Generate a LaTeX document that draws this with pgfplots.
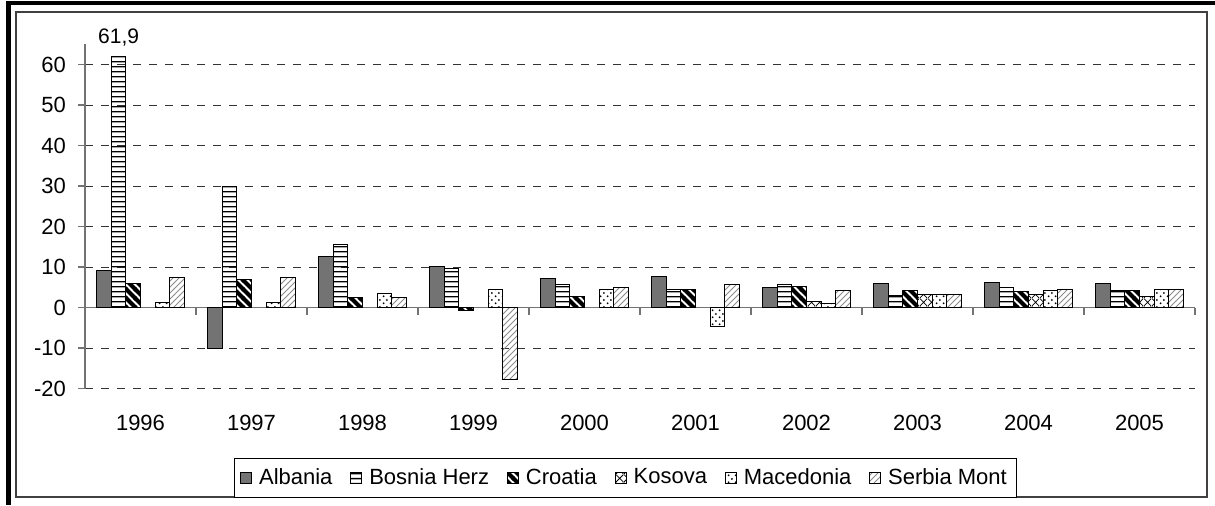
\documentclass[border=0pt]{standalone}
\usepackage{fontspec}
\setmainfont{Liberation Sans}
\usepackage{pgfplots}
\usepackage{pgfplotstable}
\pgfplotsset{compat=1.18}
\usetikzlibrary{patterns}

\pgfdeclarepatternformonly{hstripe}{\pgfqpoint{0pt}{0pt}}{\pgfqpoint{20pt}{2.4pt}}{\pgfqpoint{20pt}{2.4pt}}{%
  \pgfsetlinewidth{0.7pt}\pgfpathmoveto{\pgfqpoint{-1pt}{1.2pt}}\pgfpathlineto{\pgfqpoint{21pt}{1.2pt}}\pgfusepath{stroke}}
\pgfdeclarepatternformonly{wideNW}{\pgfqpoint{-1pt}{-1pt}}{\pgfqpoint{5.5pt}{5.5pt}}{\pgfqpoint{4.5pt}{4.5pt}}{%
  \pgfsetlinewidth{2pt}\pgfpathmoveto{\pgfqpoint{-1pt}{5.5pt}}\pgfpathlineto{\pgfqpoint{5.5pt}{-1pt}}\pgfusepath{stroke}}
\pgfdeclarepatternformonly{dcross}{\pgfqpoint{0pt}{0pt}}{\pgfqpoint{4pt}{4pt}}{\pgfqpoint{4pt}{4pt}}{%
  \pgfsetlinewidth{0.4pt}\pgfpathmoveto{\pgfqpoint{0pt}{0pt}}\pgfpathlineto{\pgfqpoint{4pt}{4pt}}%
  \pgfpathmoveto{\pgfqpoint{0pt}{4pt}}\pgfpathlineto{\pgfqpoint{4pt}{0pt}}\pgfusepath{stroke}}
\pgfdeclarepatternformonly{sdots}{\pgfqpoint{0pt}{0pt}}{\pgfqpoint{3.6pt}{3.6pt}}{\pgfqpoint{3.6pt}{3.6pt}}{%
  \pgfpathcircle{\pgfqpoint{0.9pt}{0.9pt}}{0.55pt}\pgfpathcircle{\pgfqpoint{2.7pt}{2.7pt}}{0.55pt}\pgfusepath{fill}}

\pgfplotstableread{
x alb bos cro kos mac ser lbl
0 9.1 61.9 6.0 nan 1.4 7.4 61,9
1 -10.1 30.0 7.0 nan 1.4 7.4 {}
2 12.6 15.7 2.5 nan 3.5 2.5 {}
3 10.2 9.7 -0.8 nan 4.5 -17.8 {}
4 7.3 5.6 2.8 nan 4.5 4.9 {}
5 7.6 4.5 4.5 nan -4.6 5.6 {}
6 4.9 5.6 5.2 1.5 1.1 4.2 {}
7 6.0 3.0 4.3 3.2 3.2 3.2 {}
8 6.3 4.9 3.9 3.2 4.2 4.5 {}
9 6.0 4.2 4.2 2.8 4.5 4.5 {}
}\data

\begin{document}
\begin{tikzpicture}
\useasboundingbox (0,0) rectangle (607.5pt,-252.5pt);
\fill[black] (3pt,-0.5pt) rectangle (607.5pt,-2.5pt);
\fill[black] (3pt,-0.5pt) rectangle (5.25pt,-252.5pt);
\draw[black!75, line width=0.8pt] (8pt,-6pt) rectangle (603.5pt,-248.5pt);

\begin{axis}[
  at={(42.5pt,-194.35pt)}, anchor=south west,
  scale only axis, width=555pt, height=172.2pt,
  xmin=-0.5, xmax=9.5, ymin=-20, ymax=65,
  ybar=0pt, bar width=0.1315,
  axis y line=left, axis x line=middle,
  axis line style={draw=black!55, line width=0.7pt, -},
  tick style={draw=black!55, line width=0.7pt},
  tick align=outside, major tick length=3.5pt,
  ytick={-20,-10,...,60},
  xtick={-0.5,0.5,...,9.5}, xticklabels={},
  ymajorgrids,
  major grid style={black!80, line width=0.5pt, dash pattern=on 4pt off 4pt},
  ticklabel style={font=\fontsize{11}{13}\selectfont},
  yticklabel style={xshift=-2.5pt},
  /pgf/number format/assume math mode=true,
  legend style={at={(0.487,-0.258)}, anchor=center, legend columns=6,
    draw=black, line width=0.5pt, font=\fontsize{11}{13}\selectfont,
    inner sep=3pt,
    /tikz/every odd column/.append style={column sep=1.5pt},
    /tikz/every even column/.append style={column sep=7pt}},
  legend image code/.code={\draw[#1, line width=0.4pt] (0pt,-2.75pt) rectangle (5.5pt,2.75pt);},
]
\addplot[draw=black, line width=0.5pt, fill=black!55] table[x=x,y=alb]{\data};
\addplot[draw=black, line width=0.5pt, pattern=hstripe, pattern color=black,
  nodes near coords, point meta=explicit symbolic,
  nodes near coords style={font=\fontsize{10.5}{12}\selectfont, yshift=2pt, black}]
  table[x=x,y=bos,meta=lbl]{\data};
\addplot[draw=black, line width=0.5pt, pattern=wideNW, pattern color=black] table[x=x,y=cro]{\data};
\addplot[draw=black, line width=0.5pt, pattern=dcross, pattern color=black] table[x=x,y=kos]{\data};
\addplot[draw=black, line width=0.5pt, pattern=sdots, pattern color=black] table[x=x,y=mac]{\data};
\addplot[draw=black, line width=0.5pt, pattern=north east lines, pattern color=black!45] table[x=x,y=ser]{\data};
\legend{Albania, Bosnia Herz, Croatia, Kosova, Macedonia, Serbia Mont}
\end{axis}

\begin{axis}[
  at={(42.5pt,-194.35pt)}, anchor=south west,
  scale only axis, width=555pt, height=172.2pt,
  xmin=-0.5, xmax=9.5, ymin=-20, ymax=65,
  axis x line=bottom, axis y line=none,
  x axis line style={draw=none}, ytick=\empty,
  xtick={0,...,9}, major tick length=0pt,
  xticklabels={1996,1997,1998,1999,2000,2001,2002,2003,2004,2005},
  xticklabel style={font=\fontsize{11}{13}\selectfont, yshift=-9.5pt},
]
\end{axis}
\end{tikzpicture}
\end{document}
